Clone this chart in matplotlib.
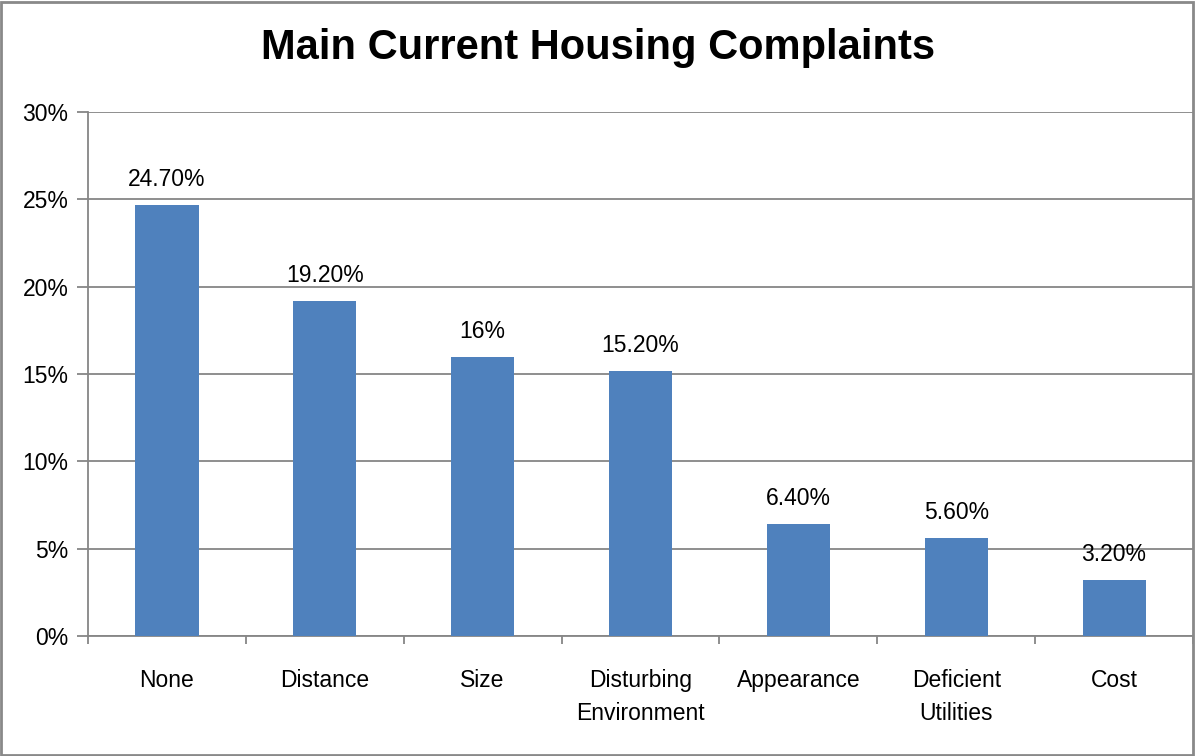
import numpy as np
import matplotlib.pyplot as plt
from matplotlib.patches import Rectangle
from matplotlib.ticker import MultipleLocator, FuncFormatter

plt.rcParams.update({
    'font.family': ['Liberation Sans', 'DejaVu Sans'],
    'font.size': 16,
})

categories = ['None', 'Distance', 'Size', 'Disturbing\nEnvironment',
              'Appearance', 'Deficient\nUtilities', 'Cost']
values = [24.7, 19.2, 16.0, 15.2, 6.4, 5.6, 3.2]
value_labels = ['24.70%', '19.20%', '16%', '15.20%', '6.40%', '5.60%', '3.20%']

bar_color = '#4F81BD'
grid_color = '#868686'

fig = plt.figure(figsize=(11.95, 7.56), dpi=100)
ax = fig.add_axes([88 / 1195, 1 - 636 / 756, (1193 - 88) / 1195, (636 - 112) / 756])

x = np.arange(len(categories))
ax.bar(x, values, width=0.4, color=bar_color, zorder=3)

for xi, v, lab in zip(x, values, value_labels):
    ax.annotate(lab, (xi, v), xytext=(0, 10), textcoords='offset points',
                ha='center', va='bottom', fontsize=16.5)

ax.set_xlim(-0.5, len(categories) - 0.5)
ax.set_ylim(0, 30)
ax.yaxis.set_major_locator(MultipleLocator(5))
ax.yaxis.set_major_formatter(FuncFormatter(lambda v, p: f'{v:.0f}%'))
ax.grid(axis='y', color=grid_color, linewidth=1.3, zorder=0)

# category labels centred, tick marks on boundaries
ax.set_xticks(x)
ax.set_xticklabels(categories, fontsize=16.5, linespacing=1.55, va='top')
ax.tick_params(axis='x', length=0, pad=24)
ax.set_xticks(np.arange(-0.5, len(categories)), minor=True)
ax.tick_params(axis='x', which='minor', length=6, width=1.3, color=grid_color)
ax.tick_params(axis='y', length=8, width=1.3, color=grid_color, pad=6, labelsize=16.5)

for side in ['top', 'right']:
    ax.spines[side].set_visible(False)
for side in ['left', 'bottom']:
    ax.spines[side].set_color(grid_color)
    ax.spines[side].set_linewidth(1.3)

fig.text(598 / 1195, 1 - 48 / 756, 'Main Current Housing Complaints',
         ha='center', va='center', fontsize=30, fontweight='bold')

fig.patches.append(Rectangle((0.001, 0.001), 0.997, 0.997, transform=fig.transFigure,
                             fill=False, edgecolor='#898989', linewidth=2))

fig.savefig('out.png', dpi=100)
